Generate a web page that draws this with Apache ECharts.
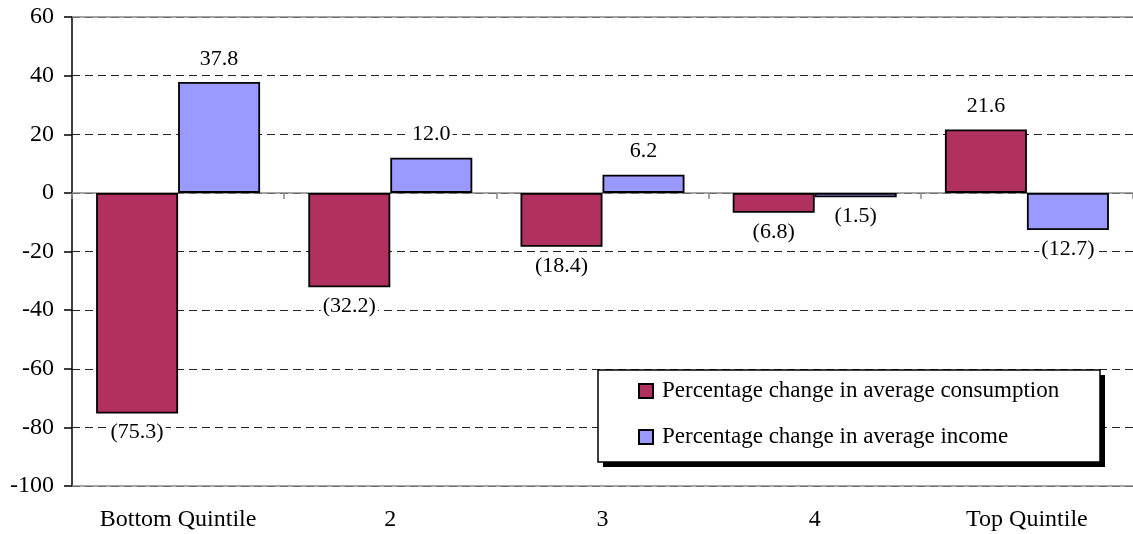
<!DOCTYPE html>
<html>
<head>
<meta charset="utf-8">
<script src="https://cdn.jsdelivr.net/npm/echarts@6/dist/echarts.min.js"></script>
<style>
  html, body { margin: 0; padding: 0; background: #fff; }
  #chart { width: 1133px; height: 534px; }
</style>
</head>
<body>
<div id="chart"></div>
<script>
// Quintile groups along the horizontal axis
const categories = ['Bottom Quintile', '2', '3', '4', 'Top Quintile'];
// Percentage change by quintile
const consumptionChange = [-75.3, -32.2, -18.4, -6.8, 21.6];
const incomeChange = [37.8, 12.0, 6.2, -1.5, -12.7];
const seriesNames = ['Percentage change in average consumption', 'Percentage change in average income'];

const FONT = '"Liberation Serif", "Times New Roman", serif';

// Negative values are shown in parentheses, positives plain, one decimal
function fmt(v) {
  return v < 0 ? '(' + Math.abs(v).toFixed(1) + ')' : v.toFixed(1);
}

function barData(values) {
  return values.map(v => ({
    value: v,
    label: {
      position: v < 0 ? 'bottom' : 'top',
      distance: v < 0 ? 8 : 12
    }
  }));
}

const labelStyle = {
  show: true,
  formatter: p => fmt(p.value),
  fontFamily: FONT,
  fontSize: 22,
  color: '#000',
  backgroundColor: '#fff',
  padding: [0, 2]
};

const chart = echarts.init(document.getElementById('chart'), null, { renderer: 'canvas' });

chart.setOption({
  animation: false,
  backgroundColor: '#fff',
  grid: { left: 72, right: 0, top: 17, bottom: 48 },
  // legend frame with a solid drop shadow
  graphic: [
    { type: 'rect', z: 3, shape: { x: 603, y: 375, width: 502, height: 92 }, style: { fill: '#000' } },
    { type: 'rect', z: 4, shape: { x: 598, y: 370, width: 502, height: 92 }, style: { fill: '#fff', stroke: '#000', lineWidth: 1.5 } }
  ],
  legend: {
    z: 5,
    orient: 'vertical',
    left: 638,
    top: 379,
    padding: 0,
    icon: 'rect',
    itemWidth: 14,
    itemHeight: 14,
    itemGap: 22,
    textStyle: { fontFamily: FONT, fontSize: 23, lineHeight: 24, color: '#000', padding: [0, 0, 0, 4] },
    data: seriesNames
  },
  xAxis: [
    {
      // bottom axis carrying the category names
      type: 'category',
      data: categories,
      position: 'bottom',
      axisLine: { onZero: false, lineStyle: { color: '#888', width: 1.5 } },
      axisTick: { show: false },
      axisLabel: { fontFamily: FONT, fontSize: 24, color: '#000', margin: 22 },
      splitLine: { show: false }
    },
    {
      // zero line with boundary ticks
      type: 'category',
      data: categories,
      position: 'bottom',
      axisLine: { onZero: true, lineStyle: { color: '#888', width: 1.5 } },
      axisTick: { show: true, length: 6, lineStyle: { color: '#888', width: 1.5 } },
      axisLabel: { show: false },
      splitLine: { show: false }
    },
    {
      // top frame line
      type: 'category',
      data: categories,
      position: 'top',
      axisLine: { onZero: false, lineStyle: { color: '#888', width: 1.5 } },
      axisTick: { show: false },
      axisLabel: { show: false },
      splitLine: { show: false }
    }
  ],
  yAxis: {
    type: 'value',
    min: -100,
    max: 60,
    interval: 20,
    axisLine: { show: true, lineStyle: { color: '#000', width: 1.5 } },
    axisTick: { show: true, length: 8, lineStyle: { color: '#000', width: 1.5 } },
    axisLabel: { fontFamily: FONT, fontSize: 24, color: '#000', margin: 18 },
    splitLine: { show: true, lineStyle: { color: '#222', type: [8, 5], width: 1 } }
  },
  series: [
    {
      name: seriesNames[0],
      type: 'bar',
      data: barData(consumptionChange),
      barWidth: 82,
      barGap: '0%',
      itemStyle: { color: '#B03060', borderColor: '#000', borderWidth: 1.8 },
      label: labelStyle
    },
    {
      name: seriesNames[1],
      type: 'bar',
      data: barData(incomeChange),
      barWidth: 82,
      barGap: '0%',
      itemStyle: { color: '#9999FF', borderColor: '#000', borderWidth: 1.8 },
      label: labelStyle
    }
  ]
});
</script>
</body>
</html>
